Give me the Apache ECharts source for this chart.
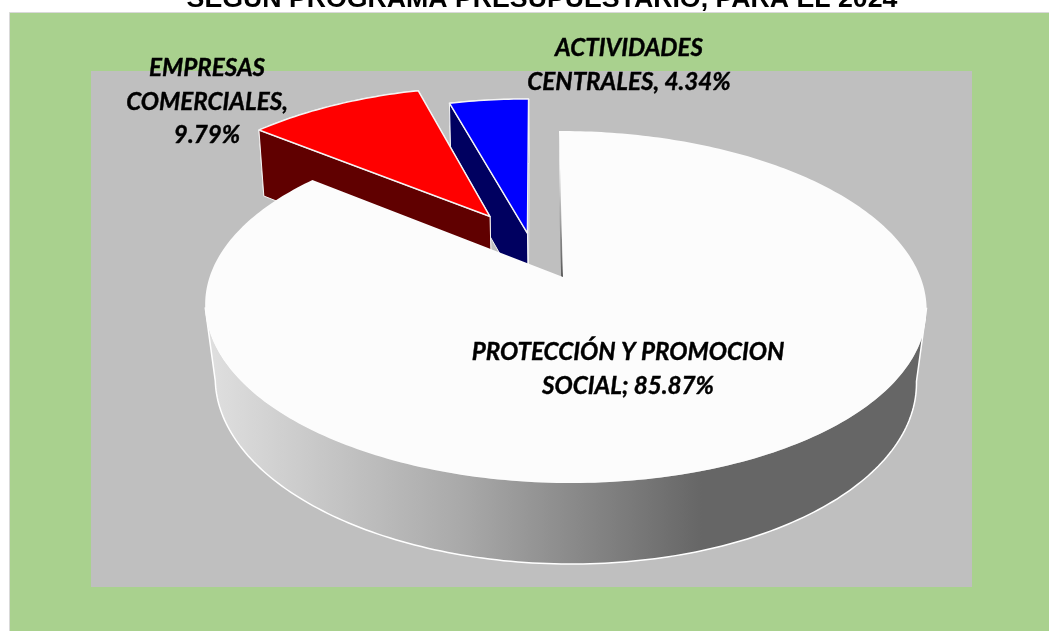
<!DOCTYPE html>
<html>
<head>
<meta charset="utf-8">
<title>Programa presupuestario 2024</title>
<style>
html,body{margin:0;padding:0;background:#fff;overflow:hidden;}
#chart{width:1049px;height:631px;}
</style>
<script src="https://cdn.jsdelivr.net/npm/echarts@6/dist/echarts.min.js"></script>
</head>
<body>
<div id="chart"></div>
<script>
/*datos*/
var titleText = "SEGÚN PROGRAMA PRESUPUESTARIO, PARA EL 2024";
var categories = ["PROTECCIÓN Y PROMOCION SOCIAL","EMPRESAS COMERCIALES","ACTIVIDADES CENTRALES"];
var percentages = [85.87,9.79,4.34];
var labelTexts = ["PROTECCIÓN Y PROMOCION\nSOCIAL; 85.87%","EMPRESAS\nCOMERCIALES,\n9.79%","ACTIVIDADES\nCENTRALES, 4.34%"];

/*estilos de cada porcion*/
var topColors = ["#fcfcfc","#ff0000","#0000ff"];
var sideColors = ["#666666","#600000","#000060"];
var explodeOffsets = [[0,0],[-0.2135,0.3764],[-0.101,0.267]];
var tilts = [-0.0056,0,0]; //solo la porcion principal va ladeada
var labelPositions = [[628,369],[207,102],[629,65]];

/*perspectiva: circulo unidad del plano -> pantalla*/
var tipX = 563, tipY = 277;
var scaleX = 355.4, scaleY = 170.9, skewX = -4.7, depthK = 0.1705;

function projectTop(x,y,tilt){
    var w = 1 + depthK*y + tilt*x;
    return [tipX + (scaleX*x + skewX*y)/w, tipY - scaleY*y/w];
}
/*la cara inferior se ve un poco mas estrecha y la caida crece hacia el frente*/
function toBottom(p){
    var s = Math.max(0.972,0.984-0.00007*(p[1]-130));
    return [565 + s*(p[0]-565), p[1] + 66 + 0.0426*(p[1]-130.7)];
}
function arcPoints(offset,tilt,from,to){
    var pts = [];
    var steps = Math.max(2,Math.ceil((to-from)));
    for(var i=0;i<=steps;i++){
        var a = (from + (to-from)*i/steps)*Math.PI/180;
        pts.push(projectTop(offset[0]+Math.sin(a),offset[1]+Math.cos(a),tilt));
    }
    return pts;
}
function strip(line){
    var back = line.map(toBottom).reverse();
    return line.concat(back);
}
function poly(points,fill,z2,stroke,strokeWidth){
    return {
        type:"polygon",
        z2:z2,
        silent:true,
        shape:{points:points},
        style:{fill:fill,stroke:stroke||null,lineWidth:strokeWidth||0,lineJoin:"round"}
    };
}

var total = percentages.reduce(function(s,v){return s+v;},0);

function renderSlice(params,api){
    var idx = params.dataIndex;
    var start = 0;
    for(var i=0;i<idx;i++){start += percentages[i]/total*360;}
    var end = start + api.value(0)/total*360;
    var offset = explodeOffsets[idx];
    var tilt = tilts[idx];
    var apex = projectTop(offset[0],offset[1],tilt);
    var arc = arcPoints(offset,tilt,start,end);
    var base = (3-idx)*10;
    var children = [];

    if(idx==0){
        /*porcion principal: solo la pared frontal, de tangente a tangente*/
        var front = arcPoints(offset,tilt,100,260);
        children.push(poly(strip(front),{
            type:"linear",x:214,y:0,x2:702,y2:0,global:true,
            colorStops:[{offset:0,color:"#dedede"},{offset:0.5,color:"#aaaaaa"},{offset:1,color:"#666666"}]
        },base));
        children.push({
            type:"polyline",
            z2:base,
            silent:true,
            shape:{points:[front[0]].concat(front.map(toBottom),[front[front.length-1]])},
            style:{fill:null,stroke:"#ffffff",lineWidth:1.5,lineJoin:"round"}
        });
        /*rendija del corte inicial*/
        children.push(poly(strip([arc[0],apex]),{
            type:"linear",x:0,y:150,x2:0,y2:277,global:true,
            colorStops:[{offset:0,color:"#ffffff"},{offset:1,color:"#555555"}]
        },base+1));
        children.push(poly([apex].concat(arc),topColors[idx],base+2));
    }else{
        var edge = "#f4f4f4";
        children.push(poly(strip([apex,arc[arc.length-1]]),sideColors[idx],base,edge,1));
        children.push(poly(strip(arc),sideColors[idx],base,edge,1));
        children.push(poly(strip([arc[0],apex]),sideColors[idx],base+1,edge,1));
        children.push(poly([apex].concat(arc),topColors[idx],base+2,edge,1.5));
    }
    children.push({
        type:"text",
        z2:50,
        silent:true,
        x:labelPositions[idx][0],
        y:labelPositions[idx][1],
        style:{
            text:labelTexts[idx],
            fontFamily:"Lato",
            fontSize:24.2,
            fontWeight:"bold",
            fontStyle:"italic",
            fill:"#000",
            stroke:"#000",
            lineWidth:0.4,
            align:"center",
            verticalAlign:"middle",
            lineHeight:33.5
        }
    });
    return {type:"group",children:children};
}

var myChart = echarts.init(document.getElementById("chart"),null,{renderer:"canvas"});
myChart.setOption({
    animation:false,
    backgroundColor:"#ffffff",
    graphic:[
        {type:"rect",z:-2,silent:true,shape:{x:9.5,y:12.5,width:1045,height:625},style:{fill:"#a9d18e",stroke:"#d9d9d9",lineWidth:1}},
        {type:"rect",z:-1,silent:true,shape:{x:91,y:71,width:881,height:516},style:{fill:"#bfbfbf"}},
        {type:"text",z:5,silent:true,x:542,y:13,style:{text:titleText,fontFamily:"Liberation Sans",fontSize:26.7,fontWeight:"bold",fill:"#000",align:"center",verticalAlign:"bottom"}}
    ],
    series:[{
        type:"custom",
        coordinateSystem:"none",
        renderItem:renderSlice,
        data:percentages.map(function(v,i){return {name:categories[i],value:[v]};})
    }]
});
</script>
</body>
</html>
